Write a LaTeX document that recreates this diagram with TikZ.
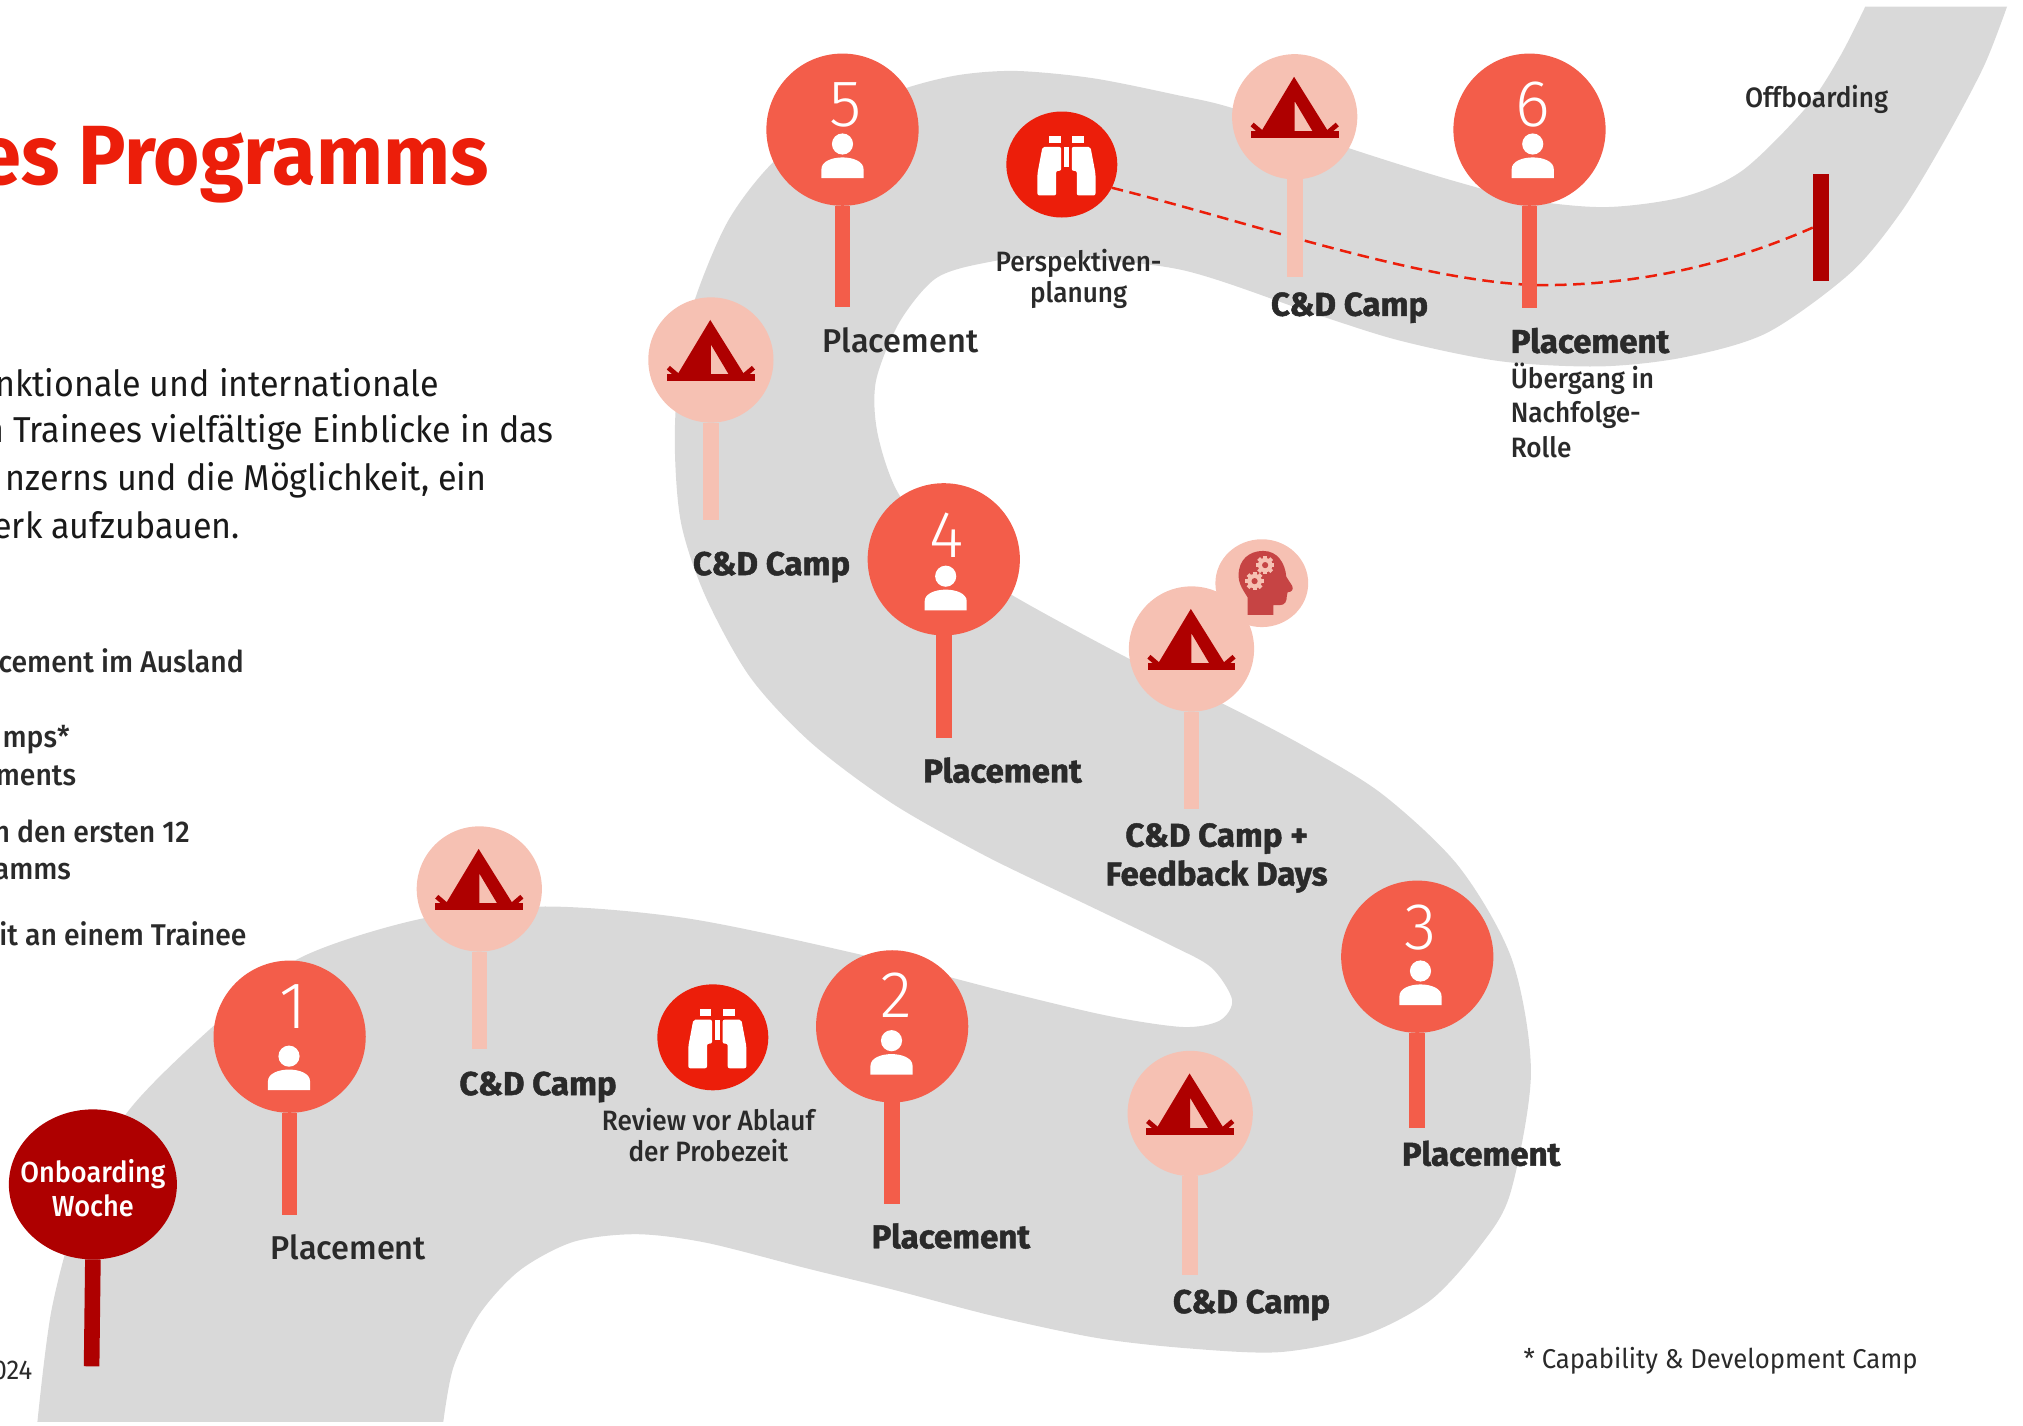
\documentclass[tikz,border=0pt]{standalone}
\usepackage{fontspec}
\setmainfont[FakeStretch=0.945]{Fira Sans}
\newfontfamily\medfont[FakeStretch=0.985]{Fira Sans Medium}
\newfontfamily\smallfont[FakeStretch=0.935]{Fira Sans Medium}
\newfontfamily\listfont[FakeStretch=0.945]{Fira Sans Medium}
\newfontfamily\lightfont{Fira Sans Light}
\newfontfamily\heavyfont[FakeBold=1.4]{Fira Sans Bold}
\usetikzlibrary{shapes.geometric,backgrounds}
\definecolor{roadc}{HTML}{D9D9D9}
\definecolor{placec}{HTML}{F35D4A}
\definecolor{campc}{HTML}{F6C1B3}
\definecolor{redc}{HTML}{EC1E0A}
\definecolor{darkc}{HTML}{AE0000}
\definecolor{textc}{HTML}{2A2A2A}
\definecolor{headc}{HTML}{C64444}
\tikzset{
  x=0.645pt,y=-0.645pt,
  every node/.style={outer sep=0pt},
  placepin/.style={circle,fill=placec,inner sep=0pt,minimum size=76.1pt},
  camppin/.style={circle,fill=campc,inner sep=0pt,minimum size=62.6pt},
  binopin/.style={ellipse,fill=redc,inner sep=0pt,minimum width=55.5pt,minimum height=53pt},
  placestem/.style={draw=placec,line width=7.8pt},
  campstem/.style={draw=campc,line width=7.8pt},
  darkstem/.style={draw=darkc,line width=7.8pt},
  digit/.style={inner sep=0pt,text=white,font=\lightfont\fontsize{33}{33}\selectfont},
  heavylabel/.style={inner sep=0pt,text=textc,align=center,font=\heavyfont\fontsize{16.5}{19.4}\selectfont},
  medlabel/.style={inner sep=0pt,text=textc,align=center,font=\medfont\fontsize{16.5}{19.4}\selectfont},
  smalllabel/.style={inner sep=0pt,text=textc,align=center,font=\smallfont\fontsize{14}{15.5}\selectfont},
  smallleft/.style={inner sep=0pt,text=textc,align=left,font=\smallfont\fontsize{14}{17.3}\selectfont},
  bodytext/.style={inner sep=0pt,text=black!90,anchor=base east,font=\fontsize{18}{18}\selectfont},
  listtext/.style={inner sep=0pt,text=textc,anchor=base east,font=\listfont\fontsize{15}{15}\selectfont},
  plaintext/.style={inner sep=0pt,text=textc,font=\fontsize{13.6}{14}\selectfont},
  dashline/.style={draw=redc,line width=1.25pt,dash pattern=on 5.8pt off 3.3pt},
}
\newcommand{\personicon}[2]{%
  \begin{scope}[shift={(#1,#2)}]
    \fill[white] (0,-26.4) circle [radius=8.2];
    \fill[white] (-16.3,0) -- (-16.3,-7) .. controls (-16.3,-13) and (-8,-16) .. (0,-16) .. controls (8,-16) and (16.3,-13) .. (16.3,-7) -- (16.3,0) -- cycle;
  \end{scope}}
\newcommand{\tenticon}[2]{%
  \begin{scope}[shift={(#1,#2)}]
    \fill[darkc,even odd rule] (-0.5,-31) -- (26,11.5) -- (-26,11.5) -- cycle (0,-12) -- (0,11.5) -- (14,11.5) -- cycle;
    \fill[darkc] (-34,11) rectangle (34,16.5);
    \draw[darkc,line width=2.4pt] (-33,6) -- (-26,12);
    \draw[darkc,line width=2.4pt] (33,6) -- (26,12);
  \end{scope}}
\newcommand{\binoicon}[2]{%
  \begin{scope}[shift={(#1,#2)}]
    \fill[white] (-13.4,-22) rectangle (-4.6,-16.3);
    \fill[white] (4.6,-22) rectangle (13.4,-16.3);
    \fill[white] (-2.2,-13.7) rectangle (2.2,2.3);
    \fill[white,rounded corners=1pt] (-18.6,-13.7) -- (-4.1,-13.7) -- (-4.1,4.9) -- (-8,4.9) -- (-8,24) -- (-22.5,24) -- (-22.5,7) -- cycle;
    \fill[white,rounded corners=1pt] (18.6,-13.7) -- (4.1,-13.7) -- (4.1,4.9) -- (8,4.9) -- (8,24) -- (22.5,24) -- (22.5,7) -- cycle;
  \end{scope}}
\newcommand{\gearicon}[2]{%
  \begin{scope}[shift={(#1,#2)}]
    \foreach \a in {0,45,...,315} \fill[campc,rotate=\a] (-1.5,-7.2) rectangle (1.5,0);
    \fill[campc] (0,0) circle [radius=5.6];
    \fill[headc] (0,0) circle [radius=2.4];
  \end{scope}}
\begin{document}
\begin{tikzpicture}
\useasboundingbox (0,0) rectangle (1568,1104.5);

% pins
\node[placepin] (p1) at (224.5,803.5) {};
\node[placepin] (p2) at (691.5,795.5) {};
\node[placepin] (p3) at (1098.5,741.5) {};
\node[placepin] (p4) at (731.5,433.5) {};
\node[placepin] (p5) at (653,100.5) {};
\node[placepin] (p6) at (1185.5,100.5) {};
\coordinate (p1e) at (224.5,942);
\coordinate (p2e) at (691.5,933);
\coordinate (p3e) at (1098.5,874);
\coordinate (p4e) at (731.5,572);
\coordinate (p5e) at (653,238);
\coordinate (p6e) at (1185.5,239);
\foreach \n in {1,...,6} \draw[placestem] (p\n.south) -- (p\n e);

\node[camppin] (c1) at (371.5,689) {};
\node[camppin] (c2) at (551,279) {};
\node[camppin] (c3) at (1003.5,90.5) {};
\node[camppin] (c4) at (923.5,503) {};
\node[camppin] (c5) at (922.5,863) {};
\coordinate (c1e) at (371.5,813);
\coordinate (c2e) at (551,403);
\coordinate (c3e) at (1003.5,215);
\coordinate (c4e) at (923.5,627);
\coordinate (c5e) at (922.5,988);
\foreach \n in {1,...,5} \draw[campstem] (c\n.south) -- (c\n e);

% onboarding
\coordinate (one) at (71,1059);
\node[ellipse,fill=darkc,inner sep=0pt,minimum width=84pt,minimum height=75pt] (on) at (72,918) {};
\node[inner sep=0pt,text=white,align=center,font=\smallfont\fontsize{14.5}{17.3}\selectfont] (ont) at (72,921) {Onboarding\\Woche};
\draw[darkstem] (on.south) -- (one);

% offboarding bar
\node[fill=darkc,inner sep=0pt,minimum width=8.1pt,minimum height=53.5pt] (off) at (1411.3,176.4) {};

% review circles
\node[binopin] (b1) at (823,127.5) {};
\node[binopin] (b2) at (552.5,804) {};
\binoicon{826.6}{127.5}
\binoicon{556}{804}

% brain bubble
\node[ellipse,fill=campc,inner sep=0pt,minimum width=46.4pt,minimum height=43.9pt] (brain) at (978,452) {};
\fill[headc] (967,476.5) -- (987,476.5) -- (987,469) -- (992,469) .. controls (996,469) and (997.4,466) .. (997.4,462) -- (998,459) .. controls (1001,459) and (1003,457) .. (1001.5,454) -- (997,447) .. controls (996,436) and (990,427) .. (979,427) .. controls (968,427) and (960,434) .. (960,446) .. controls (960,453) and (964,458) .. (967,463) -- cycle;
\gearicon{980.6}{438}
\gearicon{972.4}{450.4}

% icons
\foreach \x/\y in {371.5/689,551/279,1003.5/90.5,923.5/503,922.5/863} {\tenticon{\x}{\y}}
\personicon{224}{845}
\personicon{691}{833}
\personicon{1101}{779}
\personicon{733}{473}
\personicon{653}{138}
\personicon{1188}{138}
\node[digit] (d1) at (227,780) {1};
\node[digit] (d2) at (695,771) {2};
\node[digit] (d3) at (1101,719) {3};
\node[digit] (d4) at (734,415) {4};
\node[digit] (d5) at (655,81) {5};
\node[digit] (d6) at (1188,81) {6};

% road and dashed line behind everything
\begin{pgfonlayer}{background}
\fill[roadc] plot[smooth,tension=0.5] coordinates {(29,1102) (40,1015) (62,935) (98,863) (164.6,796) (231.4,743) (327,712) (422.7,702.6) (534,712) (667.5,740) (781,769) (860,787.6) (917,796) (945.4,791) (955,775) (939,750) (907.5,732.6) (844,702) (765,664) (692,623) (629,576) (581.5,525) (546.7,462) (527.8,405) (523,342) (527,280) (540,228) (565,170) (600,125) (650,88) (703,68) (744,58) (788,55) (847,60.6) (912,73.6) (956,84) (1049,116) (1126,140) (1185,155) (1245,160.5) (1305,152.5) (1351,131.8) (1400.5,82.7) (1426,44) (1445.7,5.2)}
 -- plot[smooth,tension=0.5] coordinates {(1555.6,5.2) (1537.5,51.7) (1506,111) (1473,165) (1434,211.8) (1369.5,258) (1305,277) (1240,284) (1163,280) (1085,264) (1018,243) (915,209) (811,199) (762,204) (725,216) (697,250) (679,295) (680,335) (695.5,381) (730,425) (785.7,462) (876,511) (949,546) (1012,579) (1072,616) (1131,672) (1172,744) (1186.6,832) (1170.6,925) (1147,966) (1108.5,1008) (1057,1035) (992,1048) (920,1045) (850,1037) (770,1020) (690,999) (625,983) (547.8,963.3) (493.6,956.6) (444.5,962.5) (403,984.5) (372,1018) (351.5,1059.5) (343.6,1102)}
 -- cycle;
\draw[dashline] (b1.-25) .. controls (965,171) and (1105,220) .. (1195,221) .. controls (1270,221) and (1340,205) .. (off.west);
\end{pgfonlayer}

% title and left text
\node[inner sep=0pt,text=redc,anchor=base east,font=\bfseries\fontsize{42}{42}\selectfont] (title) at (379,143) {es Programms};
\node[bodytext] (t1) at (340,307) {nktionale und internationale};
\node[bodytext] (t2) at (429,343) {n Trainees vielfältige Einblicke in das};
\node[bodytext] (t3) at (377,380) {nzerns und die Möglichkeit, ein};
\node[bodytext] (t4) at (186,417) {erk aufzubauen.};
\node[listtext] (l1) at (189,521) {cement im Ausland};
\node[listtext] (l2) at (54,579) {mps*};
\node[listtext] (l3) at (59,609) {ments};
\node[listtext] (l4) at (147,653) {n den ersten 12};
\node[listtext] (l5) at (55,682) {amms};
\node[listtext] (l6) at (191,733) {eit an einem Trainee};
\node[plaintext,anchor=base east] (yr) at (25,1069) {024};

% labels
\node[medlabel] (lp1) at (270,967) {Placement};
\node[medlabel] (lp5) at (698,264) {Placement};
\node[heavylabel] (lp2) at (737,958) {Placement};
\node[heavylabel] (lp3) at (1148,894) {Placement};
\node[heavylabel] (lp4) at (777,597) {Placement};
\node[heavylabel,anchor=west] (lp6) at (1171,264) {Placement};
\node[heavylabel] (lc1) at (417,842.5) {C\&D Camp};
\node[heavylabel] (lc2) at (598,439.5) {C\&D Camp};
\node[heavylabel] (lc3) at (1046,238.5) {C\&D Camp};
\node[heavylabel] (lc4) at (943,665) {C\&D Camp +\\Feedback Days};
\node[heavylabel] (lc5) at (970,1011.5) {C\&D Camp};
\node[smalllabel] (lb1) at (836,216) {Perspektiven-\\planung};
\node[smalllabel] (lb2) at (549,880) {Review vor Ablauf\\der Probezeit};
\node[smallleft,anchor=north west] (lp6b) at (1171,281) {Übergang in\\Nachfolge-\\Rolle};
\node[smalllabel] (loff) at (1408,77) {Offboarding};
\node[plaintext,anchor=base west] (foot) at (1181,1061) {* Capability \& Development Camp};
\end{tikzpicture}
\end{document}
